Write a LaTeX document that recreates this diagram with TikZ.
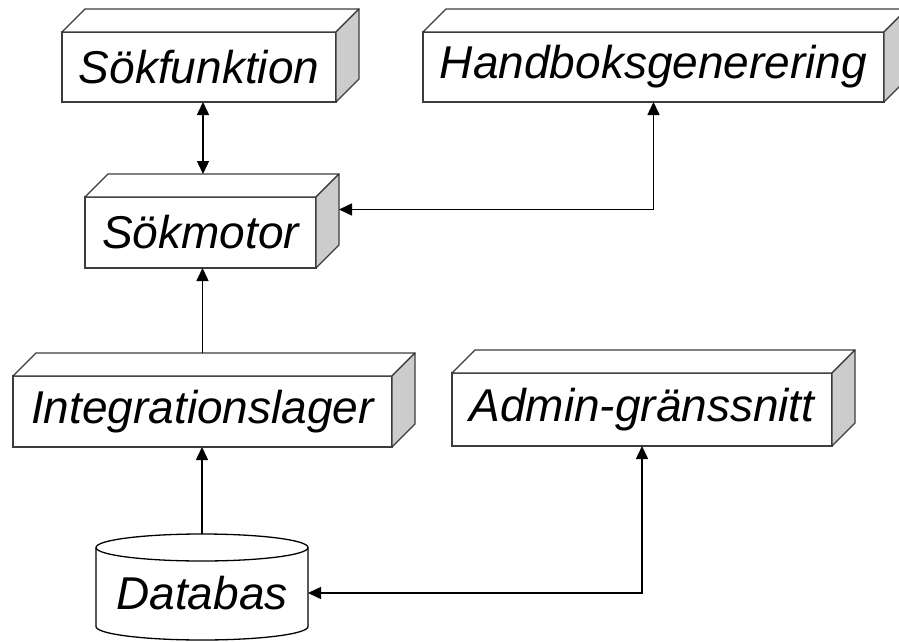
\documentclass[tikz,border=0pt]{standalone}
\usepackage{fontspec}
\setmainfont{Liberation Sans}
\usetikzlibrary{arrows.meta}
\definecolor{sidegray}{RGB}{204,204,204}
\definecolor{edgegray}{RGB}{60,60,60}
% top and right faces of a 3D module box
\newcommand\boxfaces[1]{%
  \draw[faceline, fill=white] (#1.north west) -- ++(23,23) -- ([shift={(23,23)}]#1.north east) -- (#1.north east) -- cycle;
  \draw[faceline, fill=sidegray] (#1.north east) -- ++(23,23) -- ([shift={(23,23)}]#1.south east) -- (#1.south east) -- cycle;}
\begin{document}
\begin{tikzpicture}[x=1pt, y=1pt,
  labelfont/.style={font=\itshape\fontsize{46}{55}\selectfont},
  module/.style={labelfont, rectangle, draw=edgegray, line width=1.3pt, fill=white, inner sep=0pt, outer sep=0pt},
  faceline/.style={draw=edgegray, line width=1.3pt, line join=round},
  dbnode/.style={labelfont, rectangle, inner sep=0pt, outer sep=0pt, minimum width=212pt, minimum height=106pt, text height=60pt, text depth=16pt},
  cyl/.style={draw=black, line width=1.3pt},
  tip/.tip={Triangle[length=13pt, width=12pt]},
  link/.style={line width=1.5pt, -tip},
  biLink/.style={line width=1.5pt, tip-tip}]
\useasboundingbox (0,0) rectangle (899,-642);

% modules
\node[module, minimum width=274pt, minimum height=70pt] (sf) at (199,-67) {Sökfunktion};
\node[module, minimum width=461pt, minimum height=70pt] (hb) at (653.5,-67) {Handboksgenerering};
\node[module, minimum width=231pt, minimum height=71pt] (sm) at (200.5,-232.5) {Sökmotor};
\node[module, minimum width=379pt, minimum height=71pt] (il) at (202.5,-411.5) {Integrationslager};
\node[module, minimum width=380pt, minimum height=73pt] (ad) at (642,-409.5) {Admin-gränssnitt};
\boxfaces{sf}
\boxfaces{hb}
\boxfaces{sm}
\boxfaces{il}
\boxfaces{ad}

% database cylinder
\node[dbnode] (db) at (202,-587) {Databas};
\draw[cyl] ([yshift=-13.5pt]db.north west) -- ([yshift=13.5pt]db.south west)
  arc[start angle=180, end angle=360, x radius=106pt, y radius=13.5pt]
  -- ([yshift=-13.5pt]db.north east);
\draw[cyl] ([yshift=-13.5pt]db.north) ellipse[x radius=106pt, y radius=13.5pt];

% connectors
\coordinate (smtop) at ([xshift=2.5pt, yshift=23pt]sm.north);
\coordinate (iltop) at ([yshift=23pt]il.north);
\coordinate (smback) at ([shift={(23pt,23pt)}]sm.east);
\coordinate (dbport) at ([yshift=-6pt]db.east);
\draw[biLink] (sf.south -| smtop) -- (smtop);
\draw[link] (iltop) -- (iltop |- sm.south);
\draw[link] (db.north) -- (db.north |- il.south);
\draw[biLink] (smback) -| (hb.south);
\draw[biLink] (dbport) -| (ad.south);
\end{tikzpicture}
\end{document}
